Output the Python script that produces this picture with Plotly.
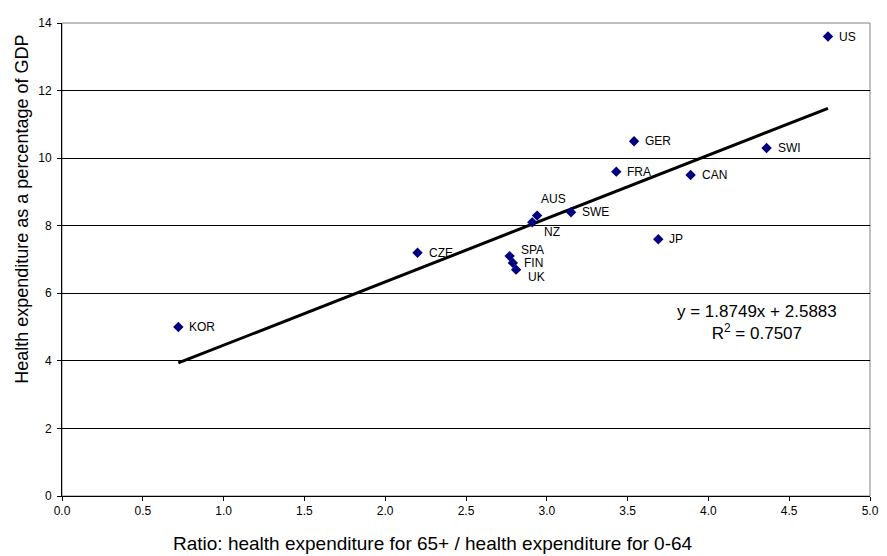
import plotly.graph_objects as go

countries = ["US", "SWI", "GER", "FRA", "CAN", "AUS", "SWE", "NZ", "JP", "CZE", "SPA", "FIN", "UK", "KOR"]
ratio = [4.74, 4.36, 3.54, 3.43, 3.89, 2.94, 3.15, 2.91, 3.69, 2.20, 2.77, 2.79, 2.81, 0.72]
health_gdp = [13.6, 10.3, 10.5, 9.6, 9.5, 8.3, 8.4, 8.1, 7.6, 7.2, 7.1, 6.9, 6.7, 5.0]

slope = 1.8749
intercept = 2.5883
r2 = 0.7507

x_ticks = [0.0, 0.5, 1.0, 1.5, 2.0, 2.5, 3.0, 3.5, 4.0, 4.5, 5.0]
y_ticks = [0, 2, 4, 6, 8, 10, 12, 14]

# label offsets in pixels (dx, dy) relative to marker
label_shift = {"NZ": (10, -10), "UK": (10, -7), "SPA": (9, 6), "AUS": (2, 17)}

FONT = "Arial, Liberation Sans, sans-serif"

fig = go.Figure()

xmin, xmax = min(ratio), max(ratio)
fig.add_trace(go.Scatter(
    x=[xmin, xmax], y=[slope * xmin + intercept, slope * xmax + intercept],
    mode="lines", line=dict(color="black", width=3), hoverinfo="skip", showlegend=False))

fig.add_trace(go.Scatter(
    x=ratio, y=health_gdp, mode="markers",
    marker=dict(symbol="diamond", size=8, color="#000080"),
    text=countries, showlegend=False))

for c, xv, yv in zip(countries, ratio, health_gdp):
    dx, dy = label_shift.get(c, (9, 0))
    fig.add_annotation(x=xv, y=yv, text=c, showarrow=False, xanchor="left",
                       xshift=dx, yshift=dy,
                       font=dict(family=FONT, size=12, color="black"))

fig.add_annotation(x=0.86, y=0.367, xref="paper", yref="paper",
                   xanchor="center", yanchor="middle",
                   text=f"y = {slope}x + {intercept}<br>R<sup>2</sup> = {r2}",
                   showarrow=False, align="center",
                   font=dict(family=FONT, size=17, color="black"))

fig.add_annotation(x=0.459, y=-0.101, xref="paper", yref="paper",
                   xanchor="center", yanchor="middle",
                   text="Ratio: health expenditure for 65+ / health expenditure for 0-64",
                   showarrow=False,
                   font=dict(family=FONT, size=19, color="black"))
fig.add_annotation(x=-0.049, y=0.606, xref="paper", yref="paper",
                   text="Health expenditure as a percentage of GDP", textangle=-90,
                   showarrow=False, xanchor="center", yanchor="middle",
                   font=dict(family=FONT, size=18, color="black"))

# the page body has an 8px margin; size the figure so the plot area lands where the original's is
fig.update_layout(
    width=879, height=548,
    margin=dict(l=54, r=11, t=8, b=60),
    paper_bgcolor="white", plot_bgcolor="white",
    font=dict(family=FONT, size=12, color="black"),
    xaxis=dict(range=[0, 5], tickvals=x_ticks, ticktext=[f"{v:.1f}" for v in x_ticks],
               showgrid=False, zeroline=False, showline=True, linecolor="black", linewidth=1,
               mirror=False, ticks="outside", ticklen=4, tickcolor="black"),
    yaxis=dict(range=[0, 14], tickvals=y_ticks, showgrid=True, gridcolor="black", gridwidth=1,
               zeroline=False, showline=True, linecolor="black", linewidth=1,
               ticks="outside", ticklen=4, tickcolor="black", ticklabelstandoff=3),
)
fig.add_shape(type="rect", xref="paper", yref="paper", x0=0, y0=0, x1=1, y1=1,
              line=dict(color="#808080", width=1), layer="below")

fig.write_html("out.html")
